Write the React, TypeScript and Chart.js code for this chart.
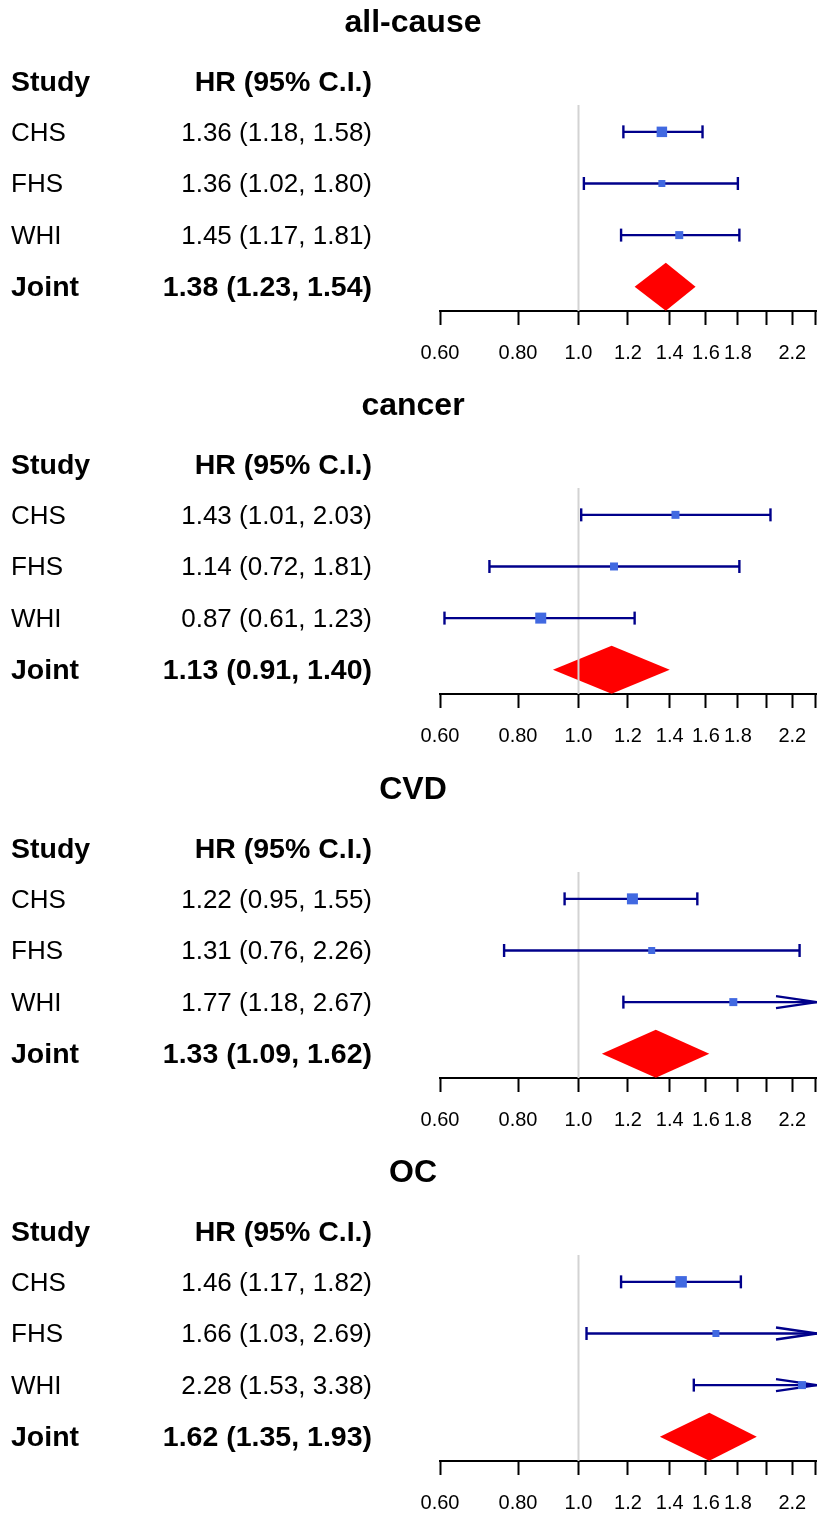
import React, { useEffect, useRef } from 'react';
import { Chart, registerables } from 'chart.js';

Chart.register(...registerables);

// ---------- data ----------
const panelTitles = ['all-cause', 'cancer', 'CVD', 'OC'];
const studyNames = ['CHS', 'FHS', 'WHI'];
const jointName = 'Joint';
const headerStudy = 'Study';
const headerHR = 'HR (95% C.I.)';

const allCauseHR = [1.36, 1.36, 1.45];
const allCauseLower = [1.18, 1.02, 1.17];
const allCauseUpper = [1.58, 1.8, 1.81];
const allCauseJoint = [1.38, 1.23, 1.54]; // est, lower, upper

const cancerHR = [1.43, 1.14, 0.87];
const cancerLower = [1.01, 0.72, 0.61];
const cancerUpper = [2.03, 1.81, 1.23];
const cancerJoint = [1.13, 0.91, 1.4];

const cvdHR = [1.22, 1.31, 1.77];
const cvdLower = [0.95, 0.76, 1.18];
const cvdUpper = [1.55, 2.26, 2.67];
const cvdJoint = [1.33, 1.09, 1.62];

const ocHR = [1.46, 1.66, 2.28];
const ocLower = [1.17, 1.03, 1.53];
const ocUpper = [1.82, 2.69, 3.38];
const ocJoint = [1.62, 1.35, 1.93];

const tickValues = [0.6, 0.8, 1.0, 1.2, 1.4, 1.6, 1.8, 2.0, 2.2, 2.4];
const tickLabels = ['0.60', '0.80', '1.0', '1.2', '1.4', '1.6', '1.8', '', '2.2', ''];

// ---------- styles / layout ----------
const boxSides = [
  [10.5, 7, 8],
  [8, 8, 11],
  [11, 7, 8],
  [11.5, 7, 8],
];
const panelTops = [0, 383, 767, 1150];
const panelHeights = [383, 384, 383, 364];
const AXIS_Y = 311;
const AREA_TOP = 105;
const FONT = '"Liberation Sans", Arial, Helvetica, sans-serif';
const NAVY = '#00008B';
const ROYAL = '#4169E1';
const XMIN = 0.6;
const XMAX = 2.41;

const panels = [
  { title: panelTitles[0], hr: allCauseHR, lo: allCauseLower, hi: allCauseUpper, joint: allCauseJoint },
  { title: panelTitles[1], hr: cancerHR, lo: cancerLower, hi: cancerUpper, joint: cancerJoint },
  { title: panelTitles[2], hr: cvdHR, lo: cvdLower, hi: cvdUpper, joint: cvdJoint },
  { title: panelTitles[3], hr: ocHR, lo: ocLower, hi: ocUpper, joint: ocJoint },
];

const fmt = (v: number) => v.toFixed(2);
const ciText = (e: number, l: number, u: number) => `${fmt(e)} (${fmt(l)}, ${fmt(u)})`;

function Panel({ idx }: { idx: number }) {
  const ref = useRef<HTMLCanvasElement | null>(null);
  const H = panelHeights[idx];
  useEffect(() => {
    const p = panels[idx];
    const sides = boxSides[idx];
    const canvas = ref.current!;

    const datasets: any[] = [];
    // point estimates
    datasets.push({
      data: p.hr.map((v, i) => ({ x: v, y: i + 1 })),
      pointStyle: 'rect',
      pointRadius: sides.map((s) => s / Math.SQRT2),
      backgroundColor: ROYAL,
      borderWidth: 0,
      pointBorderWidth: 0,
      showLine: false,
      order: 0,
    });
    // error bars
    p.hr.forEach((_, i) => {
      datasets.push({
        data: [
          { x: p.lo[i], y: i + 1 },
          { x: p.hi[i], y: i + 1 },
        ],
        showLine: true,
        borderColor: NAVY,
        borderWidth: 2.4,
        pointStyle: 'line',
        rotation: 90,
        pointRadius: 6.5,
        pointBorderColor: NAVY,
        pointBorderWidth: 2.4,
        order: 1,
      });
    });
    // reference line at HR = 1
    datasets.push({
      data: [
        { x: 1, y: 0.48 },
        { x: 1, y: 4.47 },
      ],
      showLine: true,
      borderColor: '#D3D3D3',
      borderWidth: 2,
      pointRadius: 0,
      order: 3,
    });

    const forestPlugin = {
      id: 'forest',
      beforeDatasetsDraw(chart: any) {
        const ctx = chart.ctx;
        const xs = chart.scales.x;
        const ys = chart.scales.y;
        const area = chart.chartArea;
        ctx.save();
        // diamond for joint estimate
        const [je, jl, ju] = p.joint;
        const yc = ys.getPixelForValue(4);
        ctx.fillStyle = '#FF0000';
        ctx.beginPath();
        ctx.moveTo(xs.getPixelForValue(jl), yc);
        ctx.lineTo(xs.getPixelForValue(je), yc - 24);
        ctx.lineTo(xs.getPixelForValue(ju), yc);
        ctx.lineTo(xs.getPixelForValue(je), yc + 24);
        ctx.closePath();
        ctx.fill();
        // arrows for truncated intervals
        ctx.strokeStyle = NAVY;
        ctx.lineWidth = 2.4;
        p.hi.forEach((u, i) => {
          if (u > xs.max) {
            const yy = ys.getPixelForValue(i + 1);
            const tip = area.right;
            ctx.beginPath();
            ctx.moveTo(tip - 41, yy - 6);
            ctx.lineTo(tip, yy);
            ctx.lineTo(tip - 41, yy + 6);
            ctx.stroke();
          }
        });
        ctx.restore();
      },
      afterDraw(chart: any) {
        const ctx = chart.ctx;
        const ys = chart.scales.y;
        ctx.save();
        ctx.fillStyle = '#000';
        ctx.textBaseline = 'middle';
        ctx.textAlign = 'center';
        ctx.font = `bold 32px ${FONT}`;
        ctx.fillText(p.title, 413, 23);

        const bold = `bold 28.5px ${FONT}`;
        const reg = `26px ${FONT}`;
        const dy = 1.5;
        const y0 = ys.getPixelForValue(0) + 2.5;
        ctx.font = bold;
        ctx.textAlign = 'left';
        ctx.fillText(headerStudy, 11, y0);
        ctx.textAlign = 'right';
        ctx.fillText(headerHR, 372, y0);

        ctx.font = reg;
        studyNames.forEach((s, i) => {
          const yy = ys.getPixelForValue(i + 1) + dy;
          ctx.textAlign = 'left';
          ctx.fillText(s, 11, yy);
          ctx.textAlign = 'right';
          ctx.fillText(ciText(p.hr[i], p.lo[i], p.hi[i]), 372, yy);
        });
        const yj = ys.getPixelForValue(4) + dy;
        ctx.font = bold;
        ctx.textAlign = 'left';
        ctx.fillText(jointName, 11, yj);
        ctx.textAlign = 'right';
        ctx.fillText(ciText(p.joint[0], p.joint[1], p.joint[2]), 372, yj);
        ctx.restore();
      },
    };

    const chart = new Chart(canvas, {
      type: 'scatter',
      data: { datasets },
      options: {
        animation: false,
        responsive: false,
        events: [],
        layout: { autoPadding: false, padding: { left: 440, right: 0, top: AREA_TOP, bottom: 0 } },
        plugins: { legend: { display: false }, tooltip: { enabled: false }, title: { display: false } },
        scales: {
          x: {
            type: 'logarithmic',
            min: XMIN,
            max: XMAX,
            position: 'bottom',
            afterBuildTicks: (scale: any) => {
              scale.ticks = tickValues.map((v) => ({ value: v }));
            },
            afterFit: (scale: any) => {
              scale.height = H - AXIS_Y;
              scale.paddingLeft = 0;
              scale.paddingRight = 0;
            },
            ticks: {
              autoSkip: false,
              maxRotation: 0,
              minRotation: 0,
              padding: 0,
              color: '#000',
              font: { family: FONT, size: 20, lineHeight: 2.85 },
              callback: (_v: any, i: number) => tickLabels[i],
            },
            grid: {
              drawOnChartArea: false,
              drawTicks: true,
              tickLength: 14,
              tickColor: '#000',
              tickWidth: 2,
            },
            border: { display: true, color: '#000', width: 2 },
          },
          y: {
            type: 'linear',
            display: false,
            min: 0.48,
            max: 4.47,
            reverse: true,
          },
        },
      } as any,
      plugins: [forestPlugin],
    });
    return () => chart.destroy();
  }, [idx]);

  return (
    <canvas
      ref={ref}
      width={817}
      height={H}
      style={{ position: 'absolute', left: 0, top: panelTops[idx], width: 817, height: H, display: 'block' }}
    />
  );
}

export default function App() {
  return (
    <div style={{ position: 'absolute', left: 0, top: 0, width: 817, height: 1514, background: '#fff', overflow: 'hidden' }}>
      {panels.map((_, i) => (
        <Panel key={i} idx={i} />
      ))}
    </div>
  );
}
